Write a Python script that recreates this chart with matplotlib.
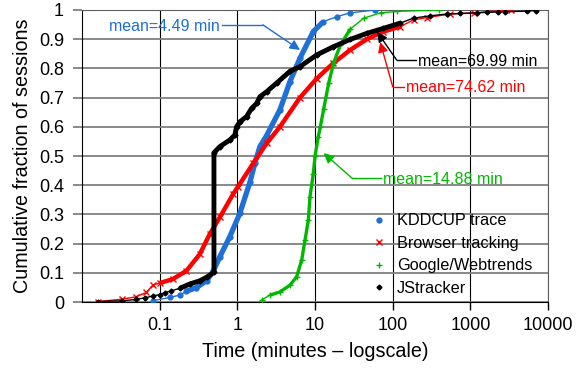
import numpy as np
import matplotlib.pyplot as plt

plt.rcParams['font.family'] = ['Liberation Sans', 'DejaVu Sans']

# session length CDFs (minutes, cumulative fraction)
kdd_t = [0.082, 0.135, 0.181, 0.221, 0.298, 0.401, 0.487, 0.594, 0.80, 1.077,
         1.45, 1.68, 1.95, 2.38, 3.53, 4.76, 6.4, 9.5, 12.8, 19.0, 28.3, 59.4]
kdd_f = [0.005, 0.016, 0.024, 0.037, 0.05, 0.073, 0.105, 0.155, 0.224, 0.304,
         0.41, 0.475, 0.532, 0.57, 0.658, 0.755, 0.835, 0.926, 0.96, 0.977, 0.99, 1.0]

brw_t = [0.0163, 0.0327, 0.049, 0.0672, 0.082, 0.1, 0.148, 0.221, 0.328, 0.442,
         0.594, 0.883, 1.02, 1.6, 2.38, 3.53, 6.4, 10.5, 17.2, 28.3, 46.5, 76.0,
         125, 185, 276, 552, 1104, 3280]
brw_f = [0.002, 0.01, 0.018, 0.033, 0.059, 0.065, 0.079, 0.107, 0.164, 0.233,
         0.29, 0.37, 0.395, 0.475, 0.543, 0.60, 0.70, 0.765, 0.818, 0.863, 0.90, 0.926,
         0.943, 0.966, 0.974, 0.986, 0.99, 1.0]

ggl_t = [2.05, 2.62, 3.53, 4.76, 5.8, 6.73, 7.43, 8.2, 8.6, 9.5, 10.0, 11.0, 11.7,
         12.9, 15.0, 17.4, 21.2, 28.5, 42.5, 69.6, 114, 394]
ggl_f = [0.007, 0.024, 0.035, 0.058, 0.087, 0.144, 0.212, 0.281, 0.36, 0.44, 0.50,
         0.566, 0.60, 0.66, 0.75, 0.82, 0.88, 0.935, 0.972, 0.99, 0.995, 1.0]

js_t = [0.0163, 0.0327, 0.049, 0.0654, 0.082, 0.1, 0.116, 0.142, 0.181, 0.244,
        0.328, 0.401, 0.5, 0.5, 0.594, 0.80, 0.929, 0.977, 1.077, 1.314, 1.525,
        1.77, 1.95, 2.38, 3.21, 4.76, 6.4, 10.5, 17.2, 28.3, 46.5, 76.0, 125, 185,
        305, 500, 743, 1220, 1640, 2290, 2820, 5370, 6920]
js_f = [0.002, 0.0045, 0.009, 0.015, 0.021, 0.026, 0.032, 0.039, 0.047, 0.062,
        0.073, 0.085, 0.102, 0.511, 0.532, 0.555, 0.572, 0.60, 0.617, 0.635, 0.663,
        0.68, 0.703, 0.72, 0.75, 0.79, 0.806, 0.846, 0.874, 0.899, 0.92, 0.937, 0.955,
        0.972, 0.98, 0.986, 0.988, 0.99, 0.992, 0.993, 0.994, 0.996, 0.998]

blue = '#1F6FD6'
red = '#FF0000'
green = '#00B800'

fig = plt.figure(figsize=(5.77, 3.68), dpi=100)
ax = fig.add_axes([0.142, 0.179, 0.808, 0.794])

ax.set_xscale('log')
ax.set_xlim(0.01, 10000)
ax.set_ylim(0, 1)

# (x, y, colour, marker, marker size, band width, band from/to in y, label)
series = [
    (kdd_t, kdd_f, blue, 'o', 3.5, 3.8, 0.03, 0.97, 'KDDCUP trace'),
    (brw_t, brw_f, red, 'x', 4.0, 3.2, 0.06, 0.95, 'Browser tracking'),
    (ggl_t, ggl_f, green, '+', 5.0, 2.4, 0.02, 0.97, 'Google/Webtrends'),
    (js_t, js_f, 'black', 'D', 2.5, 3.5, 0.04, 0.956, 'JStracker'),
]
for t, f, c, m, ms, lw, lo, hi, lab in series:
    t = np.array(t)
    f = np.array(f)
    ax.plot(t, f, color=c, lw=1, marker=m, ms=ms, mew=1, zorder=3)
    body = (f >= lo) & (f <= hi)
    ax.plot(t[body], f[body], color=c, lw=lw, solid_capstyle='butt',
            solid_joinstyle='round', zorder=3)
    ax.plot([], [], ls='none', marker=m, ms=ms, color=c, label=lab)

ax.grid(axis='y', color='#808080', lw=1.3)
ax.grid(axis='x', color='black', lw=0.8)
ax.set_axisbelow(True)
ax.minorticks_off()
ax.set_xticks([0.1, 1, 10, 100, 1000, 10000])
ax.set_xticklabels(['0.1', '1', '10', '100', '1000', '10000'])
ax.set_yticks(np.arange(0, 1.01, 0.1))
ax.set_yticklabels(['0', '0.1', '0.2', '0.3', '0.4', '0.5', '0.6', '0.7', '0.8', '0.9', '1'])
ax.tick_params(axis='both', labelsize=13, direction='out')
ax.tick_params(axis='x', length=5.5, width=1, color='black', pad=5)
ax.tick_params(axis='y', length=6.5, width=1.3, color='#808080', pad=6.5)
for s in ['top', 'right']:
    ax.spines[s].set_color('#606060')
for s in ['left', 'bottom']:
    ax.spines[s].set_color('black')

ax.set_xlabel('Time (minutes \u2013 logscale)', fontsize=14.2, labelpad=6)
ax.set_ylabel('Cumulative fraction of sessions', fontsize=14.2, labelpad=5)

# mean annotations: text, colour, arrow head, elbow, line end next to text, text alignment
notes = [
    ('mean=4.49 min', blue, (6.4, 0.863), (2.13, 0.949), (0.63, 0.949), 'right'),
    ('mean=69.99 min', 'black', (63, 0.925), (112, 0.829), (200, 0.829), 'left'),
    ('mean=74.62 min', red, (69, 0.89), (100, 0.737), (140, 0.737), 'left'),
    ('mean=14.88 min', green, (12.9, 0.51), (30, 0.424), (70, 0.424), 'left'),
]
for txt, c, head, elbow, end, ha in notes:
    ax.annotate('', xy=head, xytext=elbow,
                arrowprops=dict(arrowstyle='-|>', color=c, lw=1, mutation_scale=15,
                                shrinkA=0, shrinkB=0),
                zorder=4)
    ax.plot([elbow[0], end[0]], [elbow[1], elbow[1]], color=c, lw=1, zorder=4)
    tx = end[0] * 1.06 if ha == 'left' else end[0] / 1.06
    ax.text(tx, end[1] - 0.004, txt, color=c, fontsize=11.5, va='center', ha=ha,
            zorder=5)

ax.legend(loc='center left', bbox_to_anchor=(0.62, 0.163), frameon=False,
          fontsize=11.7, handletextpad=0.6, labelspacing=0.46, handlelength=1.0,
          borderpad=0, borderaxespad=0)

fig.savefig('out.png', dpi=100)
